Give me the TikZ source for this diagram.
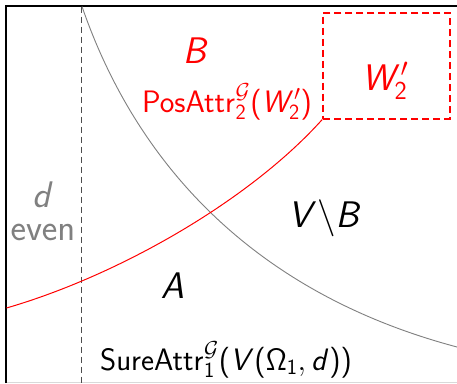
\RequirePackage{fix-cm}
\documentclass[tikz,border=0pt]{standalone}
\DeclareSymbolFont{operators}{OT1}{cmss}{m}{n}
\DeclareSymbolFont{sfletters}{OT1}{cmss}{m}{sl}
\DeclareMathSymbol{A}{\mathalpha}{sfletters}{`A}
\DeclareMathSymbol{B}{\mathalpha}{sfletters}{`B}
\DeclareMathSymbol{V}{\mathalpha}{sfletters}{`V}
\DeclareMathSymbol{W}{\mathalpha}{sfletters}{`W}
\DeclareMathSymbol{d}{\mathalpha}{sfletters}{`d}
\definecolor{myred}{RGB}{255,0,0}
\definecolor{mygray}{RGB}{128,128,128}
\tikzset{
  big/.style={font=\fontsize{37}{40}\selectfont, inner sep=0pt, anchor=base},
  lbl/.style={font=\fontsize{31}{34}\selectfont, inner sep=0pt, anchor=base},
}
\begin{document}
\begin{tikzpicture}[x=1pt,y=-1pt]
\useasboundingbox (0,0) rectangle (457,383);
\fill[white] (0,0) rectangle (457,383);
% frame
\draw[black!15, line width=1pt] (5.5,382.5) -- (457,382.5);
\draw[black, line width=2pt] (5.7,383) -- (5.7,5.5) -- (457,5.5);
% dashed vertical
\coordinate (vtop) at (81.5,6.5);
\coordinate (vbot) at (81.5,383);
\draw[black!70, line width=0.8pt, dash pattern=on 6pt off 4pt] (vtop) -- (vbot);
% box
\node[draw=myred, line width=2pt, dash pattern=on 7pt off 4pt, minimum width=126.5pt, minimum height=106pt, inner sep=0pt] (w2box) at (386.5,65.5) {};
% curves
\coordinate (gs) at (82,6.5);
\coordinate (ge) at (457,347);
\draw[mygray, line width=0.9pt] (gs) .. controls (135,160) and (250,292) .. (ge);
\coordinate (rs) at (6.5,308);
\draw[myred, line width=1pt] (rs) .. controls (120,275) and (250,200) .. (w2box.south west);
% labels
\node[big, text=myred] (B) at (196,63) {$B$};
\node[lbl, text=myred] (pos) at (227,112) {$\mathrm{PosAttr}^{\mathcal{G}}_{2}(W'_2)$};
\node[big, text=myred] (w2) at (385,90) {$W'_2$};
\node[big] (vb) at (325,227) {$V{\setminus}B$};
\node[big] (A) at (172.5,298) {$A$};
\node[font=\fontsize{37}{33}\selectfont, inner sep=0pt, align=center, text=mygray] (deven) at (43,210.7) {$d$\\$\mathrm{even}$};
\node[lbl] (sure) at (226,370) {$\mathrm{SureAttr}^{\mathcal{G}}_{1}(V(\Omega_1,d))$};
\end{tikzpicture}
\end{document}
